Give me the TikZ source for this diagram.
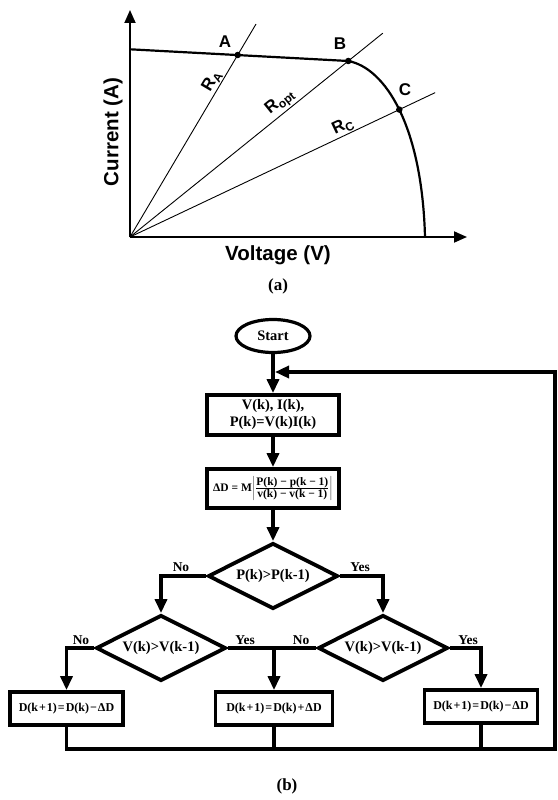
\documentclass[tikz,border=0pt]{standalone}
\usepackage{fontspec}
\setmainfont{Liberation Serif}
\newfontfamily\plotfont{Liberation Sans}
\usepackage{tikz}
\usetikzlibrary{shapes.geometric,arrows.meta,positioning,calc}

\newcommand{\rsub}[1]{R\raisebox{-0.35ex}{\fontsize{12}{13}\selectfont #1}}

\begin{document}
\begin{tikzpicture}[
    x=1pt, y=-1pt,
    axis/.style={line width=1.8pt, -{Triangle[length=13pt,width=11pt]}},
    curve/.style={line width=2.2pt},
    rline/.style={line width=0.9pt},
    dot/.style={circle, fill, inner sep=0pt, minimum size=6.5pt},
    plotlbl/.style={font=\plotfont\bfseries\fontsize{17}{19}\selectfont, inner sep=1pt},
    axlbl/.style={font=\plotfont\bfseries\fontsize{20.5}{23}\selectfont},
    block/.style={rectangle, draw, line width=3.8pt, minimum width=132pt, minimum height=40pt, align=center, inner sep=1pt, font=\bfseries\fontsize{14.5}{17}\selectfont},
    dblock/.style={rectangle, draw, line width=3.8pt, minimum width=113pt, minimum height=33pt, inner sep=1pt, font=\bfseries\fontsize{12}{14}\selectfont},
    decision/.style={diamond, draw, line width=3.8pt, aspect=2, minimum width=130pt, minimum height=66pt, inner sep=0pt, font=\bfseries\fontsize{14.5}{16}\selectfont},
    startend/.style={ellipse, draw, line width=3.2pt, minimum width=74pt, minimum height=33pt, inner sep=0pt, font=\bfseries\fontsize{14.5}{16}\selectfont},
    arrow/.style={line width=3.4pt, -{Triangle[length=14pt,width=12pt]}},
    link/.style={line width=3.4pt},
    yn/.style={font=\bfseries\fontsize{13.5}{15}\selectfont, inner sep=0pt},
    caption/.style={font=\bfseries\fontsize{17}{19}\selectfont}
]
    \useasboundingbox (0,0) rectangle (557,800);

    % I-V curve
    \coordinate (O) at (130,237);
    \coordinate (ytip) at (130,10);
    \coordinate (xtip) at (467,237);
    \coordinate (isc) at (130,49.3);
    \coordinate (voc) at (425,237);
    \draw[axis] (O) -- (ytip);
    \draw[axis] (O) -- (xtip);

    \node[dot] (ptA) at (237.7,55) {};
    \node[dot] (ptB) at (348.3,61) {};
    \node[dot] (ptC) at (399.3,109.6) {};
    \draw[curve] (isc) -- (ptB.center) .. controls (385,68) and (422,125) .. (voc);

    % Load lines
    \draw[rline] (O) -- ($(O)!1.17!(ptA)$) node[plotlbl, pos=0.71, sloped, above] (ra) {\rsub{A}};
    \draw[rline] (O) -- ($(O)!1.158!(ptB)$) node[plotlbl, pos=0.62, sloped, above] (ropt) {\rsub{opt}};
    \draw[rline] (O) -- ($(O)!1.133!(ptC)$) node[plotlbl, pos=0.71, sloped, above] (rc) {\rsub{C}};

    \node[plotlbl] (la) at (225,41.7) {A};
    \node[plotlbl] (lb) at (340,43.3) {B};
    \node[plotlbl] (lc) at (405,89.3) {C};

    \node[axlbl, rotate=90] (ylbl) at (113,132) {Current (A)};
    \node[axlbl] (xlbl) at (278,255) {Voltage (V)};
    \node[caption] (capa) at (278,286) {(a)};

    % Flowchart
    \node[startend] (start) at (273,336) {Start};
    \node[block] (meas) at (273,415) {V(k), I(k),\\P(k)=V(k)I(k)};
    \node[block, minimum height=39pt] (step) at (273,488.5)
        {\fontsize{11.5}{13}\selectfont ΔD = M$\left|\frac{\mbox{P(k) − p(k − 1)}}{\mbox{v(k) − v(k − 1)}}\right|$};
    \node[decision] (cmpP) at (273,576) {P(k)>P(k-1)};
    \node[decision] (cmpVL) at (161,648) {V(k)>V(k-1)};
    \node[decision] (cmpVR) at (383,648) {V(k)>V(k-1)};
    \node[dblock] (decL) at (66.5,708.5) {D(k\kern1pt+\kern1pt1)\kern1pt=\kern1ptD(k)\kern1pt−\kern1ptΔD};
    \node[dblock, minimum width=117pt] (incM) at (274,708.5) {D(k\kern1pt+\kern1pt1)\kern1pt=\kern1ptD(k)\kern1pt+\kern1ptΔD};
    \node[dblock] (decR) at (481,706.5) {D(k\kern1pt+\kern1pt1)\kern1pt=\kern1ptD(k)\kern1pt−\kern1ptΔD};

    % Yes / No
    \node[yn] (noP) at (181,567) {No};
    \node[yn] (yesP) at (360,567) {Yes};
    \node[yn] (noL) at (81,640) {No};
    \node[yn] (yesL) at (245,640) {Yes};
    \node[yn] (noR) at (301,640) {No};
    \node[yn] (yesR) at (468,640) {Yes};

    % Arrows
    \coordinate (fbtop) at (555,372);
    \coordinate (fbbot) at (555,749);
    \coordinate (fbin) at (275,372);
    \draw[arrow] (start) -- (meas);
    \draw[arrow] (meas) -- (step);
    \draw[arrow] (step) -- (cmpP);
    \draw[arrow] (cmpP.west) -| (cmpVL.north);
    \draw[arrow] (cmpP.east) -| (cmpVR.north);
    \draw[arrow] (cmpVL.west) -| (decL.north);
    \draw[link] (cmpVL.east) -- (cmpVR.west);
    \draw[arrow] (cmpVL.east -| incM.north) -- (incM.north);
    \draw[arrow] (cmpVR.east) -| (decR.north);
    \draw[link] (incM.south) -- (incM.south |- fbbot);
    \draw[link] (decR.south) -- (decR.south |- fbbot);
    \draw[arrow] (decL.south) |- (fbbot) -- (fbtop) -- (fbin);

    \node[caption] (capb) at (287,786) {(b)};
\end{tikzpicture}
\end{document}
